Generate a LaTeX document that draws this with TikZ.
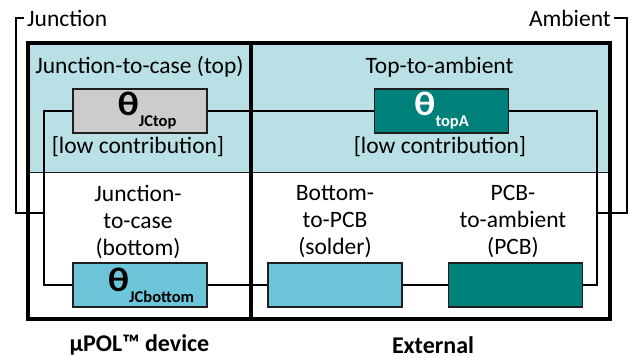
\documentclass[tikz,border=0pt]{standalone}
\usepackage{fontspec}
\setmainfont{Carlito}
\usepackage{tikz}
\definecolor{topbg}{RGB}{185, 224, 228}
\definecolor{tealbox}{RGB}{0, 128, 122}
\definecolor{skybox}{RGB}{108, 197, 217}
\definecolor{greybox}{RGB}{204, 204, 204}
\definecolor{edge}{RGB}{30, 30, 30}

\newcommand{\thetalabel}[2]{\hspace*{#1}\scalebox{1.15}[1]{\fontsize{34}{34}\selectfont\bfseries θ}\raisebox{-11pt}{\fontsize{16.5}{16.5}\selectfont\bfseries #2}}

\begin{document}
\begin{tikzpicture}[x=1pt, y=-1pt,
  every node/.style={font=\fontsize{23.5}{27}\selectfont},
  resbox/.style={rectangle, draw=edge, line width=1.2pt, minimum width=134pt, minimum height=44pt, inner sep=0pt},
  wire/.style={line width=1.2pt, color=black},
  frame/.style={line width=3.6pt, color=black},
  caption/.style={font=\fontsize{24}{27}\selectfont\bfseries}]
\useasboundingbox (0,0) rectangle (632,358);
% top row background
\fill [topbg] (28,43) rectangle (610,173);
\draw [line width=1pt, color=edge] (28,173) -- (610,173);
% resistor boxes
\node (jctop) [resbox, fill=greybox] at (140,111) {\thetalabel{14pt}{JCtop}};
\node (topa) [resbox, fill=tealbox, text=white] at (441.5,111) {\thetalabel{0pt}{topA}};
\node (jcbot) [resbox, fill=skybox] at (140,285) {\thetalabel{22pt}{JCbottom}};
\node (solder) [resbox, fill=skybox] at (335,285) {};
\node (pcb) [resbox, fill=tealbox] at (515.5,285) {};
% texts
\node (junction) [anchor=west, inner sep=3pt] at (24,18) {Junction};
\node (ambient) [anchor=east, inner sep=3pt] at (614,18) {Ambient};
\node (jctoptxt) at (139.5,67) {Junction-to-case (top)};
\node (topatxt) at (439.5,67) {Top-to-ambient};
\node (lowleft) at (138,147) {[low contribution]};
\node (lowright) at (440,147) {[low contribution]};
\node (jcbottxt) [align=center] at (138,222) {Junction-\\to-case\\(bottom)};
\node (soldertxt) [align=center] at (335,222) {Bottom-\\to-PCB\\(solder)};
\node (pcbtxt) [align=center] at (513,222) {PCB-\\to-ambient\\(PCB)};
\node (device) [caption] at (139.5,345) {µPOL™ device};
\node (external) [caption] at (433,345) {External};
% thermal paths
\coordinate (jup) at (16,18);
\coordinate (jbus) at (44,213);
\coordinate (aup) at (627,18);
\coordinate (abus) at (597,213);
\draw [wire] (junction.west) -- (jup) |- (jbus);
\draw [wire] (jctop.west) -| (jbus) |- (jcbot.west);
\draw [wire] (ambient.east) -- (aup) |- (abus);
\draw [wire] (topa.east) -| (abus) |- (pcb.east);
\draw [wire] (jctop) -- (topa);
\draw [wire] (jcbot) -- (solder);
\draw [wire] (solder) -- (pcb);
% frames
\draw [frame] (28,43) rectangle (610,319);
\draw [frame] (251,43) -- (251,319);
\end{tikzpicture}
\end{document}
